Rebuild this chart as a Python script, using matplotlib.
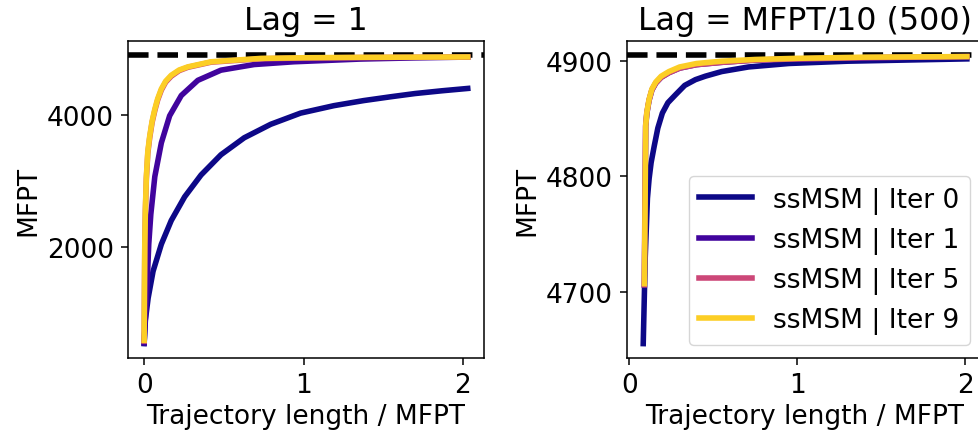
import matplotlib
matplotlib.use("Agg")
import matplotlib.pyplot as plt

mfpt = 4905

# Lag = 1 panel (x = trajectory length / MFPT)
l_x0 = [0.0, 0.008, 0.025, 0.056, 0.108, 0.17, 0.254, 0.357, 0.482, 0.628, 0.794, 0.981, 1.19, 1.377, 1.55, 1.7, 1.87, 2.03]
l_y0 = [540, 900, 1228, 1636, 2046, 2404, 2763, 3094, 3401, 3658, 3862, 4031, 4144, 4221, 4280, 4328, 4370, 4405]
l_x1 = [0.0, 0.005, 0.012, 0.02, 0.029, 0.042, 0.067, 0.108, 0.16, 0.233, 0.337, 0.482, 0.69, 0.94, 1.356, 1.7, 2.03]
l_y1 = [550, 800, 1100, 1500, 2046, 2500, 3070, 3581, 3991, 4298, 4528, 4682, 4767, 4809, 4850, 4868, 4880]
l_x5 = [0.0, 0.002, 0.004, 0.008, 0.014, 0.023, 0.035, 0.05, 0.067, 0.085, 0.108, 0.135, 0.17, 0.22, 0.274, 0.42, 0.732, 1.0, 1.356, 1.7, 2.03]
l_y5 = [580, 1300, 2000, 2550, 3040, 3420, 3660, 3890, 4070, 4230, 4380, 4500, 4590, 4675, 4725, 4803, 4855, 4866, 4873, 4877, 4880]
l_x9 = [0.0, 0.002, 0.004, 0.008, 0.014, 0.023, 0.035, 0.05, 0.067, 0.085, 0.108, 0.135, 0.17, 0.22, 0.274, 0.42, 0.732, 1.0, 1.356, 1.7, 2.03]
l_y9 = [588, 1350, 2046, 2600, 3070, 3450, 3684, 3910, 4092, 4250, 4399, 4515, 4605, 4685, 4732, 4809, 4860, 4870, 4876, 4879, 4882]

# Lag = MFPT/10 panel
r_x0 = [0.083, 0.095, 0.108, 0.118, 0.13, 0.148, 0.17, 0.197, 0.23, 0.276, 0.33, 0.394, 0.453, 0.55, 0.71, 0.95, 1.3, 1.65, 2.01]
r_y0 = [4655, 4730, 4781, 4798, 4812, 4826, 4842, 4855, 4864, 4871, 4879, 4884, 4887, 4891, 4895, 4898, 4900, 4901, 4902]
r_x1 = [0.09, 0.098, 0.105, 0.118, 0.135, 0.158, 0.19, 0.236, 0.3, 0.4, 0.55, 0.75, 1.0, 1.4, 2.01]
r_y1 = [4706, 4844, 4855, 4866, 4875, 4881, 4886, 4890, 4894, 4897, 4899, 4901, 4902, 4903, 4904]
r_x5 = [0.089, 0.097, 0.104, 0.117, 0.134, 0.157, 0.19, 0.236, 0.3, 0.4, 0.55, 0.75, 1.0, 1.4, 2.01]
r_y5 = [4706, 4844, 4855, 4866, 4875, 4881, 4886, 4890, 4894, 4897, 4899, 4901, 4902, 4903, 4904]
r_x9 = [0.09, 0.098, 0.105, 0.118, 0.135, 0.158, 0.19, 0.236, 0.3, 0.4, 0.55, 0.75, 1.0, 1.4, 2.01]
r_y9 = [4707, 4845, 4856, 4867, 4876, 4882, 4887, 4891, 4895, 4898, 4900, 4901.5, 4902.5, 4903.5, 4904]

iters = [0, 1, 5, 9]
titles = ["Lag = 1", "Lag = MFPT/10 (500)"]

plt.rcParams["font.size"] = 19
plt.rcParams["axes.linewidth"] = 1.1

fig = plt.figure(figsize=(9.79, 4.31), dpi=100)
ax1 = fig.add_axes([0.1307, 0.167, 0.3636, 0.7355])
ax2 = fig.add_axes([0.6405, 0.167, 0.3636, 0.7355])

left = [(l_x0, l_y0), (l_x1, l_y1), (l_x5, l_y5), (l_x9, l_y9)]
right = [(r_x0, r_y0), (r_x1, r_y1), (r_x5, r_y5), (r_x9, r_y9)]

for ax, data, title in zip([ax1, ax2], [left, right], titles):
    ax.axhline(mfpt, color="k", ls="--", lw=4)
    for it, (x, y) in zip(iters, data):
        ax.plot(x, y, color=plt.cm.plasma(it / 10), lw=4, label="ssMSM | Iter %d" % it)
    ax.set_title(title, pad=8.6)
    ax.set_xlabel("Trajectory length / MFPT")
    ax.set_ylabel("MFPT")
    ax.set_xticks([0, 1, 2])
    ax.tick_params(length=5, width=1.1, pad=5)

ax1.set_yticks([2000, 4000])
ax2.set_yticks([4700, 4800, 4900])
ax2.legend(loc="lower right")

fig.savefig("out.png", dpi=100)
